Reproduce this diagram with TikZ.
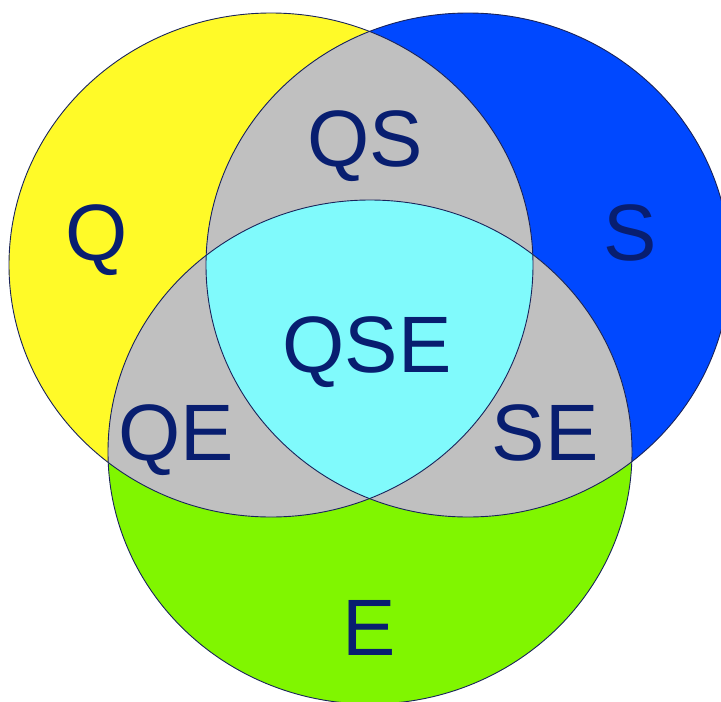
\documentclass[tikz,border=0pt]{standalone}
\usepackage{fontspec}
\setmainfont{Liberation Sans}
\usepackage{tikz}
\definecolor{qyellow}{RGB}{255,250,40}
\definecolor{sblue}{RGB}{0,72,255}
\definecolor{egreen}{RGB}{128,246,0}
\definecolor{pairgray}{RGB}{192,192,192}
\definecolor{allcyan}{RGB}{128,250,252}
\definecolor{labelblue}{RGB}{8,30,112}
\definecolor{rimline}{RGB}{25,35,90}

\begin{document}
\begin{tikzpicture}[x=1pt, y=-1pt]
\tikzstyle{setlabel}=[anchor=base, inner sep=0pt, text=labelblue, font=\fontsize{80}{96}\selectfont]
\tikzstyle{rim}=[draw=rimline, line width=0.9pt]
\useasboundingbox (0,0) rectangle (721,702);
\coordinate (q) at (271,265);
\coordinate (s) at (468,265);
\coordinate (e) at (370,452);
\def\setshape#1{(#1) ellipse [x radius=262, y radius=252]}
% single sets
\fill[qyellow] \setshape{q};
\fill[sblue] \setshape{s};
\fill[egreen] \setshape{e};
% pairwise overlaps
\begin{scope}
  \clip \setshape{q};
  \fill[pairgray] \setshape{s};
  \fill[pairgray] \setshape{e};
\end{scope}
\begin{scope}
  \clip \setshape{s};
  \fill[pairgray] \setshape{e};
\end{scope}
% all three
\begin{scope}
  \clip \setshape{q};
  \clip \setshape{s};
  \fill[allcyan] \setshape{e};
\end{scope}
\path[rim] \setshape{q};
\path[rim] \setshape{s};
\path[rim] \setshape{e};
\node[setlabel] (lq) at (97,260) {Q};
\node[setlabel] (ls) at (630,260) {S};
\node[setlabel] (le) at (369,655) {E};
\node[setlabel] (lqs) at (365,166) {QS};
\node[setlabel] (lqe) at (176,460) {QE};
\node[setlabel] (lse) at (545,460) {SE};
\node[setlabel] (lqse) at (367,372) {QSE};
\end{tikzpicture}
\end{document}
